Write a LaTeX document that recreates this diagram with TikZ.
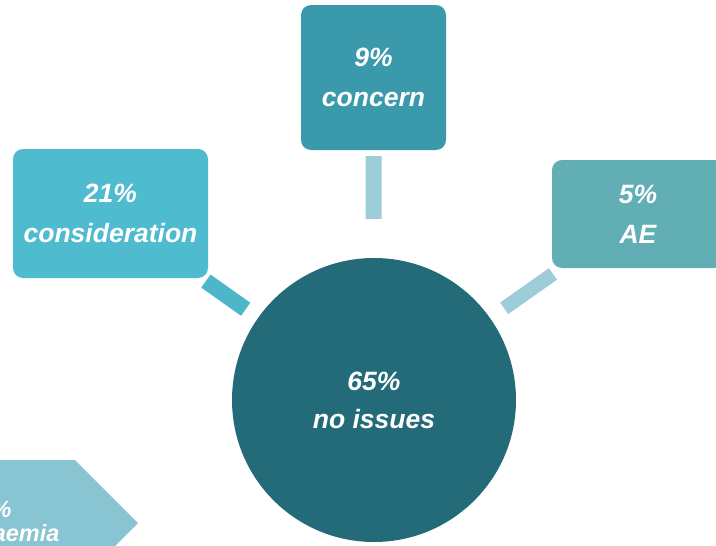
\documentclass[tikz,border=0pt]{standalone}
\usepackage{fontspec}
\setmainfont{Liberation Sans}
\usepackage{tikz}
\usetikzlibrary{positioning}
\usetikzlibrary{calc}

\definecolor{deepteal}{HTML}{236B78}
\definecolor{midteal}{HTML}{3A9AAB}
\definecolor{skyteal}{HTML}{4FBBCF}
\definecolor{greyteal}{HTML}{62AEB5}
\definecolor{paleteal}{HTML}{89C4D2}
\definecolor{barteal}{HTML}{9CCDD8}
\definecolor{barsky}{HTML}{4DB6C8}

\begin{document}
\begin{tikzpicture}[
		x=1pt, y=-1pt,
		every node/.style = {
			align=center,
			text=white,
			font=\fontsize{26.5}{40}\selectfont\bfseries\itshape
		},
		box/.style={shape=rectangle, rounded corners=10pt, inner sep=0pt},
		link/.style={line cap=butt}
		]
		\useasboundingbox (0,0) rectangle (716,546);
		\clip (0,0) rectangle (716,546);
		% boxes round the centre
		\node (issues) [circle, fill=deepteal, minimum size=284pt, inner sep=0pt] at (374,400) {65\%\\[-2pt]no issues};
		\node (concern) [box, fill=midteal, minimum width=145pt, minimum height=145pt] at (373.5,77.5) {9\%\\concern};
		\node (consider) [box, fill=skyteal, minimum width=195pt, minimum height=129pt] at (110.5,213.5) {21\%\\consideration};
		\node (ae) [box, fill=greyteal, minimum width=172pt, minimum height=108pt] at (638,214) {5\%\\AE};
		% links
		\draw [link, barteal, line width=16pt, shorten <=39pt, shorten >=6pt] (issues) -- (concern);
		\draw [link, barsky, line width=16pt, shorten <=15pt, shorten >=5pt] (issues) -- (consider);
		\draw [link, barteal, line width=14pt, shorten <=17pt, shorten >=10pt] (issues) -- (ae);
		% chevron, cut by the page
		\fill [paleteal] (-80,460) -- (75,460) -- (138,523) -- (75,586) -- (-80,586) -- cycle;
		\node (anaemiapct) [anchor=base east, font=\fontsize{23.5}{24}\selectfont\bfseries\itshape] at (15,517) {\%};
		\node (anaemiaword) [anchor=base east, font=\fontsize{23.5}{24}\selectfont\bfseries\itshape] at (63,541) {aemia};
	\end{tikzpicture}
\end{document}
